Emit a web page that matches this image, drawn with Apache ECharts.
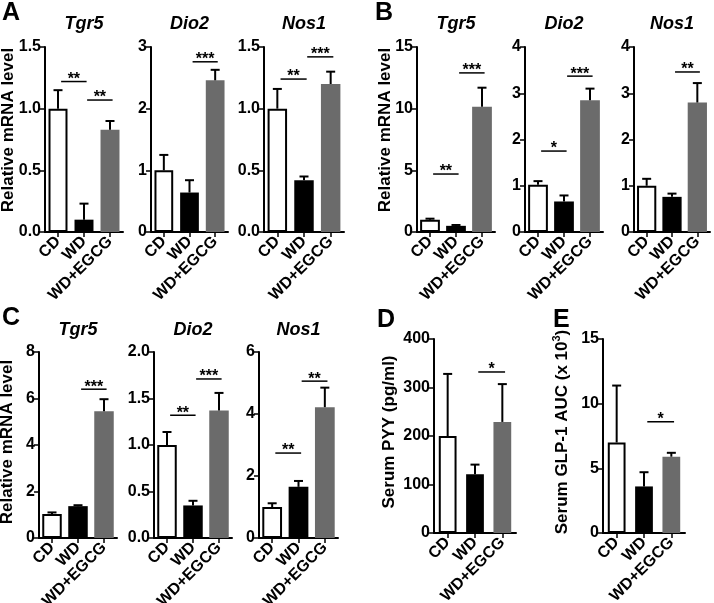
<!DOCTYPE html>
<html><head><meta charset="utf-8">
<script src="https://cdn.jsdelivr.net/npm/echarts@6/dist/echarts.min.js"></script>
<style>html,body{margin:0;padding:0;background:#fff}#c{width:714px;height:603px}</style>
</head><body><div id="c"></div>
<script>
const categories = ['CD', 'WD', 'WD+EGCG'];
const genes = ['Tgr5', 'Dio2', 'Nos1'];
const panelLetters = ['A', 'B', 'C', 'D', 'E'];
const mrnaLabel = 'Relative mRNA level';
const pyyLabel = 'Serum PYY (pg/ml)';
const glpLabel = 'Serum GLP-1 AUC (x 10{sup|3})';

// Panel A
const meanA_Tgr5 = [1.00, 0.10, 0.83];
const semA_Tgr5  = [0.15, 0.13, 0.07];
const sigA_Tgr5  = [[0, 1, 1.22, '**'], [1, 2, 1.07, '**']];
const meanA_Dio2 = [1.00, 0.64, 2.46];
const semA_Dio2  = [0.25, 0.20, 0.17];
const sigA_Dio2  = [[1, 2, 2.76, '***']];
const meanA_Nos1 = [1.00, 0.42, 1.20];
const semA_Nos1  = [0.16, 0.03, 0.10];
const sigA_Nos1  = [[0, 1, 1.24, '**'], [1, 2, 1.42, '***']];
// Panel B
const meanB_Tgr5 = [1.00, 0.50, 10.15];
const semB_Tgr5  = [0.08, 0.07, 1.55];
const sigB_Tgr5  = [[0, 1, 4.7, '**'], [1, 2, 12.9, '***']];
const meanB_Dio2 = [1.02, 0.66, 2.85];
const semB_Dio2  = [0.08, 0.13, 0.25];
const sigB_Dio2  = [[0, 1, 1.75, '*'], [1, 2, 3.37, '***']];
const meanB_Nos1 = [1.00, 0.76, 2.80];
const semB_Nos1  = [0.15, 0.07, 0.42];
const sigB_Nos1  = [[1, 2, 3.46, '**']];
// Panel C
const meanC_Tgr5 = [1.03, 1.37, 5.45];
const semC_Tgr5  = [0.07, 0.04, 0.52];
const sigC_Tgr5  = [[1, 2, 6.4, '***']];
const meanC_Dio2 = [1.00, 0.35, 1.37];
const semC_Dio2  = [0.14, 0.05, 0.19];
const sigC_Dio2  = [[0, 1, 1.32, '**'], [1, 2, 1.71, '***']];
const meanC_Nos1 = [1.00, 1.65, 4.22];
const semC_Nos1  = [0.12, 0.19, 0.63];
const sigC_Nos1  = [[0, 1, 2.74, '**'], [1, 2, 5.06, '**']];
// Panel D (PYY) and E (GLP-1 AUC)
const meanD = [200, 121, 229];
const semD  = [128, 20, 78];
const sigD  = [[1, 2, 332, '*']];
const meanE = [7.0, 3.6, 5.9];
const semE  = [4.4, 1.1, 0.3];
const sigE  = [[1, 2, 8.6, '*']];

const FONT = '"Liberation Sans", Arial, Helvetica, sans-serif';
const barColors = ['#ffffff', '#000000', '#6b6b6b'];

const panels = [
  {mean: meanA_Tgr5, sem: semA_Tgr5, sig: sigA_Tgr5, max: 1.5, interval: 0.5, dec: 1, title: genes[0], g: [45, 47, 78, 185], bw: '73%'},
  {mean: meanA_Dio2, sem: semA_Dio2, sig: sigA_Dio2, max: 3, interval: 1, dec: 0, title: genes[1], g: [151, 47, 77, 185], bw: '73%'},
  {mean: meanA_Nos1, sem: semA_Nos1, sig: sigA_Nos1, max: 1.5, interval: 0.5, dec: 1, title: genes[2], g: [264, 47, 80, 185], bw: '73%'},
  {mean: meanB_Tgr5, sem: semB_Tgr5, sig: sigB_Tgr5, max: 15, interval: 5, dec: 0, title: genes[0], g: [417, 47, 78, 185], bw: '76%'},
  {mean: meanB_Dio2, sem: semB_Dio2, sig: sigB_Dio2, max: 4, interval: 1, dec: 0, title: genes[1], g: [525, 47, 78, 185], bw: '76%'},
  {mean: meanB_Nos1, sem: semB_Nos1, sig: sigB_Nos1, max: 4, interval: 1, dec: 0, title: genes[2], g: [634, 47, 76, 185], bw: '76%'},
  {mean: meanC_Tgr5, sem: semC_Tgr5, sig: sigC_Tgr5, max: 8, interval: 2, dec: 0, title: genes[0], g: [39, 352, 78, 186], bw: '75%'},
  {mean: meanC_Dio2, sem: semC_Dio2, sig: sigC_Dio2, max: 2, interval: 0.5, dec: 1, title: genes[1], g: [154, 352, 78, 186], bw: '75%'},
  {mean: meanC_Nos1, sem: semC_Nos1, sig: sigC_Nos1, max: 6, interval: 2, dec: 0, title: genes[2], g: [259, 352, 79, 186], bw: '75%'},
  {mean: meanD, sem: semD, sig: sigD, max: 400, interval: 100, dec: 0, title: null, g: [434, 339, 82, 194], bw: '65%'},
  {mean: meanE, sem: semE, sig: sigE, max: 15, interval: 5, dec: 0, title: null, g: [603, 339, 82, 194], bw: '65%'}
];

const grid = [], xAxis = [], yAxis = [], series = [], title = [];
panels.forEach((p, i) => {
  grid.push({left: p.g[0], top: p.g[1], width: p.g[2], height: p.g[3], containLabel: false, outerBoundsMode: 'none'});
  xAxis.push({
    type: 'category', gridIndex: i, data: categories, boundaryGap: true,
    axisLine: {show: true, lineStyle: {color: '#000', width: 2}},
    axisTick: {show: true, alignWithLabel: true, length: 5, lineStyle: {color: '#000', width: 1.5}},
    axisLabel: {rotate: 45, margin: 7, interval: 0, color: '#000', fontFamily: FONT, fontWeight: 'bold', fontSize: 16, hideOverlap: false},
    splitLine: {show: false}
  });
  yAxis.push({
    type: 'value', gridIndex: i, min: 0, max: p.max, interval: p.interval,
    axisLine: {show: true, lineStyle: {color: '#000', width: 2}},
    axisTick: {show: true, inside: false, length: 5, lineStyle: {color: '#000', width: 1.5}},
    axisLabel: {margin: 4, color: '#000', fontFamily: FONT, fontWeight: 'bold', fontSize: 16,
      formatter: (v) => v.toFixed(p.dec), showMinLabel: true, showMaxLabel: true, hideOverlap: false},
    splitLine: {show: false}
  });
  series.push({
    type: 'bar', xAxisIndex: i, yAxisIndex: i, barWidth: p.bw, z: 2, silent: true,
    data: p.mean.map((v, k) => ({
      value: v,
      itemStyle: k === 0 ? {color: '#fff', borderColor: '#000', borderWidth: 2} : {color: barColors[k]}
    }))
  });
  series.push({
    type: 'custom', xAxisIndex: i, yAxisIndex: i, z: 3, silent: true,
    data: p.mean.map((v, k) => [k, v, v + p.sem[k]]),
    renderItem: (params, api) => {
      const a = api.coord([api.value(0), api.value(1)]);
      const b = api.coord([api.value(0), api.value(2)]);
      const w = 4.5;
      return {type: 'group', children: [
        {type: 'line', shape: {x1: a[0], y1: a[1], x2: b[0], y2: b[1]}, style: {stroke: '#000', lineWidth: 2}},
        {type: 'line', shape: {x1: b[0] - w, y1: b[1], x2: b[0] + w, y2: b[1]}, style: {stroke: '#000', lineWidth: 2}}
      ]};
    }
  });
  series.push({
    type: 'custom', xAxisIndex: i, yAxisIndex: i, z: 4, silent: true,
    data: p.sig.map(s => [s[0], s[1], s[2]]),
    renderItem: (params, api) => {
      const band = api.size([1, 0])[0];
      const a = api.coord([api.value(0), api.value(2)]);
      const b = api.coord([api.value(1), api.value(2)]);
      const x1 = a[0] + 0.12 * band, x2 = b[0] + 0.1 * band, y = a[1];
      return {type: 'group', children: [
        {type: 'line', shape: {x1: x1, y1: y, x2: x2, y2: y}, style: {stroke: '#000', lineWidth: 1.5}},
        {type: 'text', x: (x1 + x2) / 2, y: y - 2, style: {text: p.sig[params.dataIndex][3], fill: '#000',
          font: 'bold 16px ' + FONT, align: 'center', verticalAlign: 'middle'}}
      ]};
    }
  });
  if (p.title) {
    title.push({text: p.title, left: p.g[0] + p.g[2] / 2, top: p.g[1] === 47 ? 15 : 321, textAlign: 'center', padding: 0,
      textStyle: {fontFamily: FONT, fontWeight: 'bold', fontStyle: 'italic', fontSize: 18, color: '#000'}});
  }
});

const letterPos = [[2, 1], [375, 1], [2, 306], [377, 308], [553, 308]];
panelLetters.forEach((L, k) => {
  title.push({text: L, left: letterPos[k][0], top: letterPos[k][1], padding: 0,
    textStyle: {fontFamily: FONT, fontWeight: 'bold', fontSize: 25, color: '#000'}});
});

const ylab = (txt, x, y) => ({type: 'text', x: x, y: y, rotation: Math.PI / 2,
  style: {text: txt, fill: '#000', font: 'bold 17px ' + FONT, align: 'center', verticalAlign: 'middle',
    rich: {sup: {fontSize: 11, fontWeight: 'bold', fontFamily: FONT, padding: [0, 0, 10, 0]}}}});

const chart = echarts.init(document.getElementById('c'), null, {renderer: 'canvas'});
chart.setOption({
  animation: false,
  backgroundColor: '#fff',
  title: title,
  grid: grid, xAxis: xAxis, yAxis: yAxis, series: series,
  graphic: [
    ylab(mrnaLabel, 8, 130),
    ylab(mrnaLabel, 385, 130),
    ylab(mrnaLabel, 7, 442),
    ylab(pyyLabel, 389, 432),
    ylab(glpLabel, 562, 432)
  ]
});
</script></body></html>
